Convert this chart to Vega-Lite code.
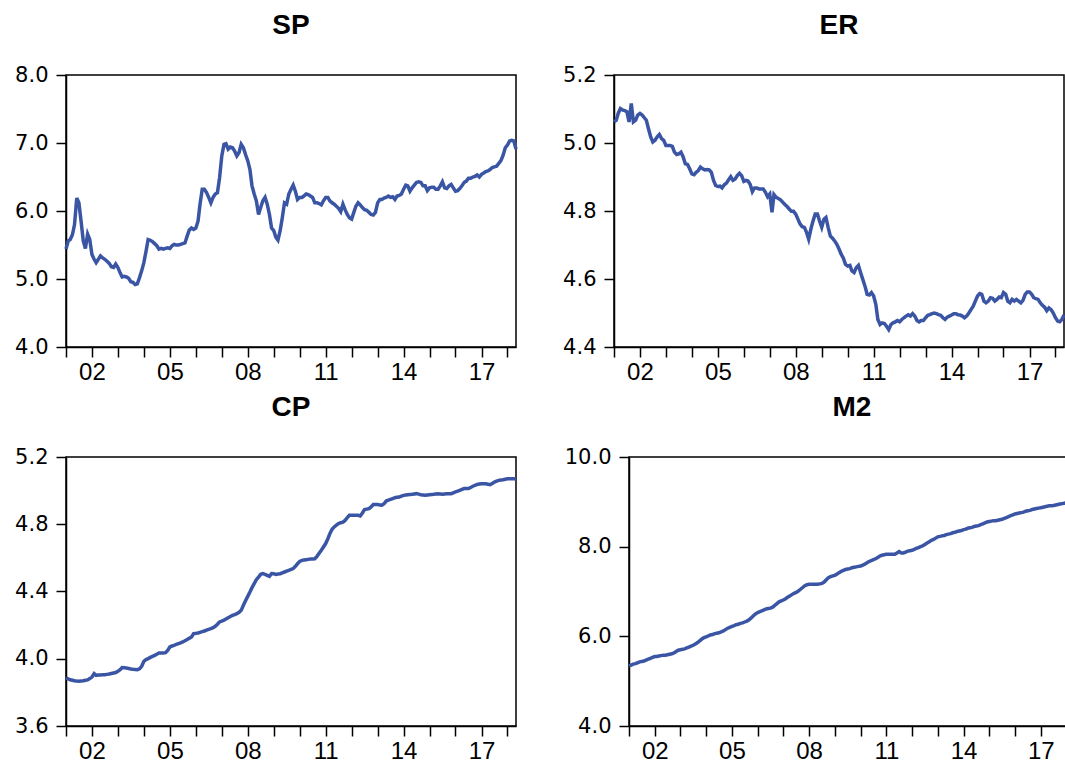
{
  "$schema": "https://vega.github.io/schema/vega-lite/v6.json",
  "background": "white",
  "padding": {"left": 10, "top": 11, "right": 0, "bottom": 0},
  "data": {
    "format": {"parse": {"t": "utc:'%Y-%m'"}},
    "values": [
      {"t":"2001-01","SP":5.44,"ER":5.062,"CP":3.886,"M2":5.34},
      {"t":"2001-02","SP":5.56,"ER":5.067,"CP":3.880,"M2":5.36},
      {"t":"2001-03","SP":5.58,"ER":5.087,"CP":3.875,"M2":5.38},
      {"t":"2001-04","SP":5.65,"ER":5.101,"CP":3.872,"M2":5.39},
      {"t":"2001-05","SP":5.80,"ER":5.097,"CP":3.869,"M2":5.41},
      {"t":"2001-06","SP":6.19,"ER":5.095,"CP":3.867,"M2":5.43},
      {"t":"2001-07","SP":6.12,"ER":5.092,"CP":3.866,"M2":5.44},
      {"t":"2001-08","SP":5.85,"ER":5.062,"CP":3.867,"M2":5.45},
      {"t":"2001-09","SP":5.56,"ER":5.116,"CP":3.869,"M2":5.47},
      {"t":"2001-10","SP":5.45,"ER":5.062,"CP":3.872,"M2":5.49},
      {"t":"2001-11","SP":5.66,"ER":5.067,"CP":3.874,"M2":5.51},
      {"t":"2001-12","SP":5.58,"ER":5.082,"CP":3.882,"M2":5.53},
      {"t":"2002-01","SP":5.36,"ER":5.087,"CP":3.891,"M2":5.55},
      {"t":"2002-02","SP":5.29,"ER":5.082,"CP":3.911,"M2":5.55},
      {"t":"2002-03","SP":5.24,"ER":5.075,"CP":3.901,"M2":5.56},
      {"t":"2002-04","SP":5.29,"ER":5.067,"CP":3.903,"M2":5.57},
      {"t":"2002-05","SP":5.34,"ER":5.042,"CP":3.904,"M2":5.58},
      {"t":"2002-06","SP":5.31,"ER":5.018,"CP":3.905,"M2":5.58},
      {"t":"2002-07","SP":5.29,"ER":5.003,"CP":3.905,"M2":5.59},
      {"t":"2002-08","SP":5.26,"ER":5.008,"CP":3.907,"M2":5.60},
      {"t":"2002-09","SP":5.23,"ER":5.018,"CP":3.909,"M2":5.61},
      {"t":"2002-10","SP":5.18,"ER":5.025,"CP":3.912,"M2":5.63},
      {"t":"2002-11","SP":5.17,"ER":5.013,"CP":3.915,"M2":5.66},
      {"t":"2002-12","SP":5.22,"ER":5.008,"CP":3.918,"M2":5.69},
      {"t":"2003-01","SP":5.17,"ER":4.993,"CP":3.925,"M2":5.70},
      {"t":"2003-02","SP":5.09,"ER":4.993,"CP":3.935,"M2":5.71},
      {"t":"2003-03","SP":5.03,"ER":4.993,"CP":3.947,"M2":5.72},
      {"t":"2003-04","SP":5.04,"ER":4.990,"CP":3.946,"M2":5.74},
      {"t":"2003-05","SP":5.03,"ER":4.973,"CP":3.945,"M2":5.76},
      {"t":"2003-06","SP":5.01,"ER":4.966,"CP":3.942,"M2":5.78},
      {"t":"2003-07","SP":4.96,"ER":4.968,"CP":3.939,"M2":5.80},
      {"t":"2003-08","SP":4.95,"ER":4.973,"CP":3.937,"M2":5.83},
      {"t":"2003-09","SP":4.92,"ER":4.959,"CP":3.936,"M2":5.86},
      {"t":"2003-10","SP":4.93,"ER":4.939,"CP":3.935,"M2":5.90},
      {"t":"2003-11","SP":5.02,"ER":4.937,"CP":3.940,"M2":5.94},
      {"t":"2003-12","SP":5.12,"ER":4.924,"CP":3.955,"M2":5.97},
      {"t":"2004-01","SP":5.24,"ER":4.909,"CP":3.985,"M2":5.99},
      {"t":"2004-02","SP":5.41,"ER":4.907,"CP":3.995,"M2":6.01},
      {"t":"2004-03","SP":5.58,"ER":4.914,"CP":4.001,"M2":6.03},
      {"t":"2004-04","SP":5.57,"ER":4.919,"CP":4.008,"M2":6.04},
      {"t":"2004-05","SP":5.55,"ER":4.929,"CP":4.014,"M2":6.06},
      {"t":"2004-06","SP":5.52,"ER":4.924,"CP":4.020,"M2":6.07},
      {"t":"2004-07","SP":5.49,"ER":4.921,"CP":4.027,"M2":6.08},
      {"t":"2004-08","SP":5.44,"ER":4.922,"CP":4.034,"M2":6.10},
      {"t":"2004-09","SP":5.45,"ER":4.921,"CP":4.034,"M2":6.12},
      {"t":"2004-10","SP":5.44,"ER":4.914,"CP":4.034,"M2":6.15},
      {"t":"2004-11","SP":5.45,"ER":4.890,"CP":4.036,"M2":6.18},
      {"t":"2004-12","SP":5.46,"ER":4.875,"CP":4.050,"M2":6.20},
      {"t":"2005-01","SP":5.45,"ER":4.872,"CP":4.070,"M2":6.22},
      {"t":"2005-02","SP":5.49,"ER":4.873,"CP":4.076,"M2":6.24},
      {"t":"2005-03","SP":5.51,"ER":4.868,"CP":4.080,"M2":6.26},
      {"t":"2005-04","SP":5.50,"ER":4.877,"CP":4.085,"M2":6.27},
      {"t":"2005-05","SP":5.50,"ER":4.882,"CP":4.090,"M2":6.29},
      {"t":"2005-06","SP":5.51,"ER":4.892,"CP":4.094,"M2":6.30},
      {"t":"2005-07","SP":5.52,"ER":4.901,"CP":4.100,"M2":6.32},
      {"t":"2005-08","SP":5.53,"ER":4.890,"CP":4.107,"M2":6.34},
      {"t":"2005-09","SP":5.63,"ER":4.894,"CP":4.114,"M2":6.37},
      {"t":"2005-10","SP":5.72,"ER":4.904,"CP":4.122,"M2":6.41},
      {"t":"2005-11","SP":5.75,"ER":4.911,"CP":4.130,"M2":6.46},
      {"t":"2005-12","SP":5.73,"ER":4.904,"CP":4.149,"M2":6.50},
      {"t":"2006-01","SP":5.75,"ER":4.887,"CP":4.151,"M2":6.53},
      {"t":"2006-02","SP":5.85,"ER":4.890,"CP":4.153,"M2":6.55},
      {"t":"2006-03","SP":6.10,"ER":4.888,"CP":4.157,"M2":6.57},
      {"t":"2006-04","SP":6.32,"ER":4.878,"CP":4.161,"M2":6.59},
      {"t":"2006-05","SP":6.32,"ER":4.857,"CP":4.165,"M2":6.61},
      {"t":"2006-06","SP":6.27,"ER":4.868,"CP":4.170,"M2":6.62},
      {"t":"2006-07","SP":6.20,"ER":4.868,"CP":4.175,"M2":6.63},
      {"t":"2006-08","SP":6.12,"ER":4.865,"CP":4.179,"M2":6.65},
      {"t":"2006-09","SP":6.20,"ER":4.865,"CP":4.185,"M2":6.69},
      {"t":"2006-10","SP":6.25,"ER":4.865,"CP":4.193,"M2":6.73},
      {"t":"2006-11","SP":6.27,"ER":4.855,"CP":4.205,"M2":6.77},
      {"t":"2006-12","SP":6.49,"ER":4.842,"CP":4.219,"M2":6.79},
      {"t":"2007-01","SP":6.81,"ER":4.850,"CP":4.224,"M2":6.81},
      {"t":"2007-02","SP":6.98,"ER":4.796,"CP":4.229,"M2":6.84},
      {"t":"2007-03","SP":6.99,"ER":4.848,"CP":4.236,"M2":6.87},
      {"t":"2007-04","SP":6.91,"ER":4.840,"CP":4.244,"M2":6.90},
      {"t":"2007-05","SP":6.94,"ER":4.837,"CP":4.251,"M2":6.93},
      {"t":"2007-06","SP":6.93,"ER":4.833,"CP":4.258,"M2":6.96},
      {"t":"2007-07","SP":6.88,"ER":4.826,"CP":4.263,"M2":6.98},
      {"t":"2007-08","SP":6.81,"ER":4.819,"CP":4.268,"M2":7.01},
      {"t":"2007-09","SP":6.86,"ER":4.813,"CP":4.276,"M2":7.05},
      {"t":"2007-10","SP":6.98,"ER":4.806,"CP":4.288,"M2":7.09},
      {"t":"2007-11","SP":6.93,"ER":4.799,"CP":4.318,"M2":7.13},
      {"t":"2007-12","SP":6.83,"ER":4.799,"CP":4.345,"M2":7.15},
      {"t":"2008-01","SP":6.74,"ER":4.791,"CP":4.371,"M2":7.16},
      {"t":"2008-02","SP":6.61,"ER":4.776,"CP":4.397,"M2":7.16},
      {"t":"2008-03","SP":6.37,"ER":4.762,"CP":4.423,"M2":7.16},
      {"t":"2008-04","SP":6.25,"ER":4.754,"CP":4.447,"M2":7.16},
      {"t":"2008-05","SP":6.15,"ER":4.752,"CP":4.470,"M2":7.16},
      {"t":"2008-06","SP":5.95,"ER":4.737,"CP":4.486,"M2":7.17},
      {"t":"2008-07","SP":6.05,"ER":4.717,"CP":4.502,"M2":7.18},
      {"t":"2008-08","SP":6.15,"ER":4.747,"CP":4.506,"M2":7.21},
      {"t":"2008-09","SP":6.20,"ER":4.771,"CP":4.502,"M2":7.26},
      {"t":"2008-10","SP":6.10,"ER":4.791,"CP":4.496,"M2":7.31},
      {"t":"2008-11","SP":5.95,"ER":4.791,"CP":4.490,"M2":7.33},
      {"t":"2008-12","SP":5.75,"ER":4.771,"CP":4.506,"M2":7.35},
      {"t":"2009-01","SP":5.71,"ER":4.752,"CP":4.505,"M2":7.36},
      {"t":"2009-02","SP":5.61,"ER":4.776,"CP":4.502,"M2":7.39},
      {"t":"2009-03","SP":5.57,"ER":4.781,"CP":4.504,"M2":7.42},
      {"t":"2009-04","SP":5.71,"ER":4.752,"CP":4.506,"M2":7.45},
      {"t":"2009-05","SP":5.90,"ER":4.727,"CP":4.511,"M2":7.47},
      {"t":"2009-06","SP":6.12,"ER":4.720,"CP":4.516,"M2":7.49},
      {"t":"2009-07","SP":6.10,"ER":4.712,"CP":4.521,"M2":7.50},
      {"t":"2009-08","SP":6.25,"ER":4.702,"CP":4.526,"M2":7.51},
      {"t":"2009-09","SP":6.32,"ER":4.688,"CP":4.531,"M2":7.53},
      {"t":"2009-10","SP":6.38,"ER":4.673,"CP":4.536,"M2":7.54},
      {"t":"2009-11","SP":6.29,"ER":4.661,"CP":4.550,"M2":7.55},
      {"t":"2009-12","SP":6.17,"ER":4.643,"CP":4.565,"M2":7.56},
      {"t":"2010-01","SP":6.20,"ER":4.638,"CP":4.579,"M2":7.57},
      {"t":"2010-02","SP":6.20,"ER":4.640,"CP":4.585,"M2":7.59},
      {"t":"2010-03","SP":6.22,"ER":4.624,"CP":4.587,"M2":7.61},
      {"t":"2010-04","SP":6.25,"ER":4.619,"CP":4.589,"M2":7.64},
      {"t":"2010-05","SP":6.24,"ER":4.633,"CP":4.591,"M2":7.67},
      {"t":"2010-06","SP":6.22,"ER":4.640,"CP":4.593,"M2":7.69},
      {"t":"2010-07","SP":6.20,"ER":4.619,"CP":4.594,"M2":7.71},
      {"t":"2010-08","SP":6.12,"ER":4.599,"CP":4.595,"M2":7.73},
      {"t":"2010-09","SP":6.12,"ER":4.579,"CP":4.609,"M2":7.76},
      {"t":"2010-10","SP":6.11,"ER":4.555,"CP":4.627,"M2":7.79},
      {"t":"2010-11","SP":6.09,"ER":4.553,"CP":4.645,"M2":7.81},
      {"t":"2010-12","SP":6.15,"ER":4.560,"CP":4.665,"M2":7.82},
      {"t":"2011-01","SP":6.20,"ER":4.550,"CP":4.685,"M2":7.83},
      {"t":"2011-02","SP":6.20,"ER":4.525,"CP":4.714,"M2":7.83},
      {"t":"2011-03","SP":6.15,"ER":4.481,"CP":4.744,"M2":7.83},
      {"t":"2011-04","SP":6.12,"ER":4.466,"CP":4.770,"M2":7.83},
      {"t":"2011-05","SP":6.10,"ER":4.471,"CP":4.784,"M2":7.83},
      {"t":"2011-06","SP":6.07,"ER":4.469,"CP":4.795,"M2":7.86},
      {"t":"2011-07","SP":6.04,"ER":4.461,"CP":4.804,"M2":7.89},
      {"t":"2011-08","SP":5.99,"ER":4.451,"CP":4.809,"M2":7.86},
      {"t":"2011-09","SP":6.10,"ER":4.466,"CP":4.813,"M2":7.86},
      {"t":"2011-10","SP":6.02,"ER":4.471,"CP":4.823,"M2":7.88},
      {"t":"2011-11","SP":5.95,"ER":4.474,"CP":4.839,"M2":7.90},
      {"t":"2011-12","SP":5.90,"ER":4.478,"CP":4.853,"M2":7.91},
      {"t":"2012-01","SP":5.88,"ER":4.474,"CP":4.853,"M2":7.92},
      {"t":"2012-02","SP":5.98,"ER":4.481,"CP":4.853,"M2":7.94},
      {"t":"2012-03","SP":6.07,"ER":4.486,"CP":4.853,"M2":7.96},
      {"t":"2012-04","SP":6.12,"ER":4.491,"CP":4.853,"M2":7.98},
      {"t":"2012-05","SP":6.09,"ER":4.495,"CP":4.849,"M2":8.00},
      {"t":"2012-06","SP":6.05,"ER":4.491,"CP":4.867,"M2":8.02},
      {"t":"2012-07","SP":6.02,"ER":4.498,"CP":4.887,"M2":8.05},
      {"t":"2012-08","SP":6.01,"ER":4.491,"CP":4.890,"M2":8.08},
      {"t":"2012-09","SP":5.98,"ER":4.478,"CP":4.893,"M2":8.11},
      {"t":"2012-10","SP":5.95,"ER":4.474,"CP":4.903,"M2":8.14},
      {"t":"2012-11","SP":5.94,"ER":4.478,"CP":4.917,"M2":8.16},
      {"t":"2012-12","SP":5.98,"ER":4.478,"CP":4.917,"M2":8.19},
      {"t":"2013-01","SP":6.12,"ER":4.486,"CP":4.917,"M2":8.22},
      {"t":"2013-02","SP":6.17,"ER":4.493,"CP":4.915,"M2":8.23},
      {"t":"2013-03","SP":6.17,"ER":4.495,"CP":4.913,"M2":8.24},
      {"t":"2013-04","SP":6.19,"ER":4.498,"CP":4.922,"M2":8.25},
      {"t":"2013-05","SP":6.20,"ER":4.500,"CP":4.938,"M2":8.27},
      {"t":"2013-06","SP":6.22,"ER":4.498,"CP":4.943,"M2":8.28},
      {"t":"2013-07","SP":6.20,"ER":4.495,"CP":4.948,"M2":8.29},
      {"t":"2013-08","SP":6.21,"ER":4.493,"CP":4.953,"M2":8.31},
      {"t":"2013-09","SP":6.17,"ER":4.486,"CP":4.958,"M2":8.32},
      {"t":"2013-10","SP":6.22,"ER":4.481,"CP":4.960,"M2":8.34},
      {"t":"2013-11","SP":6.23,"ER":4.488,"CP":4.962,"M2":8.35},
      {"t":"2013-12","SP":6.25,"ER":4.491,"CP":4.967,"M2":8.36},
      {"t":"2014-01","SP":6.32,"ER":4.494,"CP":4.972,"M2":8.38},
      {"t":"2014-02","SP":6.38,"ER":4.498,"CP":4.974,"M2":8.39},
      {"t":"2014-03","SP":6.37,"ER":4.498,"CP":4.976,"M2":8.41},
      {"t":"2014-04","SP":6.29,"ER":4.495,"CP":4.977,"M2":8.42},
      {"t":"2014-05","SP":6.34,"ER":4.494,"CP":4.978,"M2":8.43},
      {"t":"2014-06","SP":6.38,"ER":4.491,"CP":4.980,"M2":8.45},
      {"t":"2014-07","SP":6.42,"ER":4.486,"CP":4.982,"M2":8.46},
      {"t":"2014-08","SP":6.43,"ER":4.491,"CP":4.979,"M2":8.47},
      {"t":"2014-09","SP":6.42,"ER":4.500,"CP":4.976,"M2":8.49},
      {"t":"2014-10","SP":6.37,"ER":4.510,"CP":4.974,"M2":8.51},
      {"t":"2014-11","SP":6.37,"ER":4.520,"CP":4.972,"M2":8.53},
      {"t":"2014-12","SP":6.30,"ER":4.535,"CP":4.974,"M2":8.55},
      {"t":"2015-01","SP":6.34,"ER":4.550,"CP":4.976,"M2":8.56},
      {"t":"2015-02","SP":6.35,"ER":4.557,"CP":4.977,"M2":8.57},
      {"t":"2015-03","SP":6.35,"ER":4.555,"CP":4.978,"M2":8.58},
      {"t":"2015-04","SP":6.32,"ER":4.535,"CP":4.980,"M2":8.58},
      {"t":"2015-05","SP":6.32,"ER":4.530,"CP":4.982,"M2":8.59},
      {"t":"2015-06","SP":6.37,"ER":4.535,"CP":4.980,"M2":8.60},
      {"t":"2015-07","SP":6.43,"ER":4.545,"CP":4.978,"M2":8.61},
      {"t":"2015-08","SP":6.34,"ER":4.543,"CP":4.980,"M2":8.63},
      {"t":"2015-09","SP":6.33,"ER":4.535,"CP":4.982,"M2":8.65},
      {"t":"2015-10","SP":6.37,"ER":4.540,"CP":4.982,"M2":8.67},
      {"t":"2015-11","SP":6.39,"ER":4.547,"CP":4.982,"M2":8.69},
      {"t":"2015-12","SP":6.34,"ER":4.545,"CP":4.987,"M2":8.71},
      {"t":"2016-01","SP":6.29,"ER":4.560,"CP":4.992,"M2":8.73},
      {"t":"2016-02","SP":6.30,"ER":4.555,"CP":4.997,"M2":8.74},
      {"t":"2016-03","SP":6.33,"ER":4.535,"CP":5.002,"M2":8.75},
      {"t":"2016-04","SP":6.37,"ER":4.530,"CP":5.007,"M2":8.76},
      {"t":"2016-05","SP":6.42,"ER":4.540,"CP":5.012,"M2":8.77},
      {"t":"2016-06","SP":6.44,"ER":4.535,"CP":5.012,"M2":8.79},
      {"t":"2016-07","SP":6.48,"ER":4.540,"CP":5.012,"M2":8.80},
      {"t":"2016-08","SP":6.48,"ER":4.535,"CP":5.019,"M2":8.81},
      {"t":"2016-09","SP":6.50,"ER":4.530,"CP":5.026,"M2":8.83},
      {"t":"2016-10","SP":6.51,"ER":4.537,"CP":5.032,"M2":8.84},
      {"t":"2016-11","SP":6.53,"ER":4.555,"CP":5.037,"M2":8.85},
      {"t":"2016-12","SP":6.50,"ER":4.562,"CP":5.039,"M2":8.86},
      {"t":"2017-01","SP":6.54,"ER":4.562,"CP":5.041,"M2":8.87},
      {"t":"2017-02","SP":6.56,"ER":4.555,"CP":5.041,"M2":8.88},
      {"t":"2017-03","SP":6.58,"ER":4.545,"CP":5.041,"M2":8.89},
      {"t":"2017-04","SP":6.59,"ER":4.542,"CP":5.038,"M2":8.90},
      {"t":"2017-05","SP":6.61,"ER":4.540,"CP":5.035,"M2":8.91},
      {"t":"2017-06","SP":6.64,"ER":4.530,"CP":5.043,"M2":8.91},
      {"t":"2017-07","SP":6.65,"ER":4.523,"CP":5.051,"M2":8.92},
      {"t":"2017-08","SP":6.66,"ER":4.517,"CP":5.056,"M2":8.93},
      {"t":"2017-09","SP":6.70,"ER":4.507,"CP":5.061,"M2":8.94},
      {"t":"2017-10","SP":6.74,"ER":4.515,"CP":5.063,"M2":8.95},
      {"t":"2017-11","SP":6.82,"ER":4.510,"CP":5.065,"M2":8.96},
      {"t":"2017-12","SP":6.93,"ER":4.500,"CP":5.068,"M2":8.97},
      {"t":"2018-01","SP":6.97,"ER":4.486,"CP":5.071,"M2":8.98},
      {"t":"2018-02","SP":7.03,"ER":4.476,"CP":5.071,"M2":8.99},
      {"t":"2018-03","SP":7.04,"ER":4.474,"CP":5.071,"M2":9.00},
      {"t":"2018-04","SP":7.03,"ER":4.481,"CP":5.070,"M2":9.01},
      {"t":"2018-05","SP":6.91,"ER":4.494,"CP":5.069,"M2":9.02}
    ]
  },
  "vconcat": [
    {
      "spacing": 34,
      "hconcat": [
        {
          "width": 450, "height": 272, "title": "SP",
          "mark": {"type": "line", "color": "#3B55A5", "strokeWidth": 3.5},
          "encoding": {
            "x": {"field": "t", "type": "temporal",
                  "scale": {"type": "utc", "domain": [{"year": 2001, "month": 1, "date": 1, "utc": true}, {"year": 2018, "month": 5, "date": 1, "utc": true}]},
                  "axis": {"values": [{"year":2001,"utc":true},{"year":2002,"utc":true},{"year":2003,"utc":true},{"year":2004,"utc":true},{"year":2005,"utc":true},{"year":2006,"utc":true},{"year":2007,"utc":true},{"year":2008,"utc":true},{"year":2009,"utc":true},{"year":2010,"utc":true},{"year":2011,"utc":true},{"year":2012,"utc":true},{"year":2013,"utc":true},{"year":2014,"utc":true},{"year":2015,"utc":true},{"year":2016,"utc":true},{"year":2017,"utc":true},{"year":2018,"utc":true}],
                           "labelExpr": "utcyear(datum.value) % 3 == 1 ? utcFormat(datum.value, '%y') : ''"}},
            "y": {"field": "SP", "type": "quantitative",
                  "scale": {"domain": [4, 8], "nice": false, "zero": false},
                  "axis": {"values": [4, 5, 6, 7, 8], "format": ".1f", "minExtent": 55, "maxExtent": 55}}
          }
        },
        {
          "width": 450, "height": 272, "title": "ER",
          "mark": {"type": "line", "color": "#3B55A5", "strokeWidth": 3.5},
          "encoding": {
            "x": {"field": "t", "type": "temporal",
                  "scale": {"type": "utc", "domain": [{"year": 2001, "month": 1, "date": 1, "utc": true}, {"year": 2018, "month": 5, "date": 1, "utc": true}]},
                  "axis": {"values": [{"year":2001,"utc":true},{"year":2002,"utc":true},{"year":2003,"utc":true},{"year":2004,"utc":true},{"year":2005,"utc":true},{"year":2006,"utc":true},{"year":2007,"utc":true},{"year":2008,"utc":true},{"year":2009,"utc":true},{"year":2010,"utc":true},{"year":2011,"utc":true},{"year":2012,"utc":true},{"year":2013,"utc":true},{"year":2014,"utc":true},{"year":2015,"utc":true},{"year":2016,"utc":true},{"year":2017,"utc":true},{"year":2018,"utc":true}],
                           "labelExpr": "utcyear(datum.value) % 3 == 1 ? utcFormat(datum.value, '%y') : ''"}},
            "y": {"field": "ER", "type": "quantitative",
                  "scale": {"domain": [4.4, 5.2], "nice": false, "zero": false},
                  "axis": {"values": [4.4, 4.6, 4.8, 5.0, 5.2], "format": ".1f", "minExtent": 55, "maxExtent": 55}}
          }
        }
      ]
    },
    {
      "spacing": 34,
      "hconcat": [
        {
          "width": 450, "height": 269, "title": "CP",
          "mark": {"type": "line", "color": "#3B55A5", "strokeWidth": 3.5},
          "encoding": {
            "x": {"field": "t", "type": "temporal",
                  "scale": {"type": "utc", "domain": [{"year": 2001, "month": 1, "date": 1, "utc": true}, {"year": 2018, "month": 5, "date": 1, "utc": true}]},
                  "axis": {"values": [{"year":2001,"utc":true},{"year":2002,"utc":true},{"year":2003,"utc":true},{"year":2004,"utc":true},{"year":2005,"utc":true},{"year":2006,"utc":true},{"year":2007,"utc":true},{"year":2008,"utc":true},{"year":2009,"utc":true},{"year":2010,"utc":true},{"year":2011,"utc":true},{"year":2012,"utc":true},{"year":2013,"utc":true},{"year":2014,"utc":true},{"year":2015,"utc":true},{"year":2016,"utc":true},{"year":2017,"utc":true},{"year":2018,"utc":true}],
                           "labelExpr": "utcyear(datum.value) % 3 == 1 ? utcFormat(datum.value, '%y') : ''"}},
            "y": {"field": "CP", "type": "quantitative",
                  "scale": {"domain": [3.6, 5.2], "nice": false, "zero": false},
                  "axis": {"values": [3.6, 4.0, 4.4, 4.8, 5.2], "format": ".1f", "minExtent": 55, "maxExtent": 55}}
          }
        },
        {
          "width": 446, "height": 269, "title": "M2",
          "mark": {"type": "line", "color": "#3B55A5", "strokeWidth": 3.5},
          "encoding": {
            "x": {"field": "t", "type": "temporal",
                  "scale": {"type": "utc", "domain": [{"year": 2001, "month": 1, "date": 1, "utc": true}, {"year": 2018, "month": 5, "date": 1, "utc": true}]},
                  "axis": {"values": [{"year":2001,"utc":true},{"year":2002,"utc":true},{"year":2003,"utc":true},{"year":2004,"utc":true},{"year":2005,"utc":true},{"year":2006,"utc":true},{"year":2007,"utc":true},{"year":2008,"utc":true},{"year":2009,"utc":true},{"year":2010,"utc":true},{"year":2011,"utc":true},{"year":2012,"utc":true},{"year":2013,"utc":true},{"year":2014,"utc":true},{"year":2015,"utc":true},{"year":2016,"utc":true},{"year":2017,"utc":true},{"year":2018,"utc":true}],
                           "labelExpr": "utcyear(datum.value) % 3 == 1 ? utcFormat(datum.value, '%y') : ''"}},
            "y": {"field": "M2", "type": "quantitative",
                  "scale": {"domain": [4, 10], "nice": false, "zero": false},
                  "axis": {"values": [4, 6, 8, 10], "format": ".1f", "minExtent": 70, "maxExtent": 70}}
          }
        }
      ]
    }
  ],
  "spacing": 5,
  "config": {
    "view": {"stroke": "black", "strokeWidth": 1.5},
    "axis": {"domainColor": "black", "domainWidth": 1.5, "tickColor": "black", "tickWidth": 1.5, "tickSize": 10,
             "labelColor": "black", "grid": false, "title": null},
    "axisX": {"labelFont": "Liberation Sans", "labelFontSize": 24, "labelPadding": 3, "labelOverlap": false, "labelFlush": false, "labelBound": false, "minExtent": 40, "maxExtent": 40},
    "axisY": {"labelFont": "DejaVu Sans", "labelFontSize": 21, "labelPadding": 8},
    "title": {"font": "Liberation Sans", "fontSize": 28, "fontWeight": "bold", "color": "black", "anchor": "middle", "baseline": "alphabetic", "offset": 24}
  }
}
